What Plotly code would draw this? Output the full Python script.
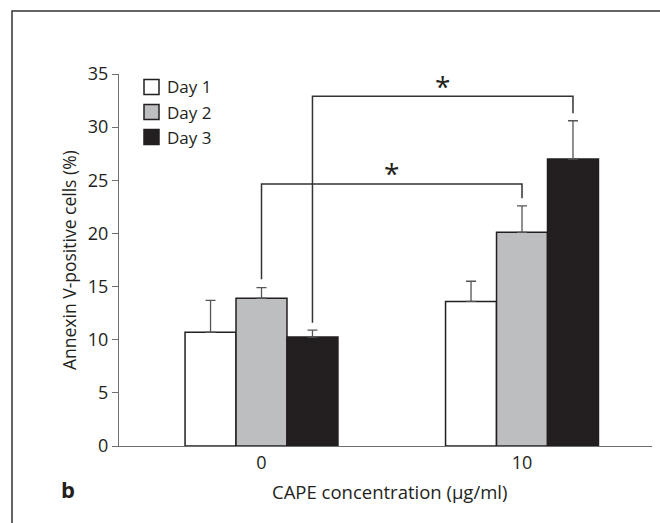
import plotly.graph_objects as go

# ---- data ----
categories = ["0", "10"]
series_names = ["Day 1", "Day 2", "Day 3"]
day1 = [10.7, 13.6]
day2 = [13.9, 20.1]
day3 = [10.25, 27.0]
day1_err = [3.0, 1.9]
day2_err = [1.0, 2.5]
day3_err = [0.65, 3.6]
y_ticks = [0, 5, 10, 15, 20, 25, 30, 35]
# significance brackets: (left bottom, top, right bottom, star y)
bracket_day2 = [15.7, 24.65, 23.3, 25.9]
bracket_day3 = [11.6, 32.9, 31.3, 34.1]

# ---- style ----
W, H = 660, 523
L, R, T, B = 119, 8, 74, 77
FONT = "Open Sans"
TXT = "#231f20"
AX = "#6d6e71"
colors = ["#ffffff", "#bcbec0", "#231f20"]
bargap = 0.413
bw = (1 - bargap) / 3

def px(X):
    return (X - L) / (W - L - R)

def py(Y):
    return (H - B - Y) / (H - T - B)

xs = list(range(len(categories)))
fig = go.Figure()
for name, vals, errs, col in zip(series_names, [day1, day2, day3],
                                 [day1_err, day2_err, day3_err], colors):
    fig.add_trace(go.Bar(
        x=xs, y=vals, name=name,
        marker=dict(color=col, line=dict(color=TXT, width=1.5)),
        error_y=dict(type="data", array=errs, arrayminus=[0] * len(errs),
                     symmetric=False, color="#555555", thickness=1.3, width=5),
        showlegend=False,
    ))

shapes = []
annotations = []
# brackets
for si, br in [(1, bracket_day2), (2, bracket_day3)]:
    off = (si - 1) * bw
    xl, xr = xs[0] + off, xs[1] + off
    lb, top, rb, sy = br
    shapes.append(dict(type="path", xref="x", yref="y",
                       path=f"M {xl},{lb} L {xl},{top} L {xr},{top} L {xr},{rb}",
                       line=dict(color="#333333", width=1.5)))
    annotations.append(dict(x=(xl + xr) / 2, y=sy, xref="x", yref="y",
                            text="*", showarrow=False, yshift=-2,
                            xanchor="center", yanchor="middle",
                            font=dict(family=FONT, size=28, color=TXT)))

# manual legend
for i, (name, col) in enumerate(zip(series_names, colors)):
    cy = 87 + 25 * i
    shapes.append(dict(type="rect", xref="paper", yref="paper",
                       x0=px(144), x1=px(159), y0=py(cy + 7.5), y1=py(cy - 7.5),
                       fillcolor=col, line=dict(color=TXT, width=1.5)))
    annotations.append(dict(x=px(165), y=py(cy), xref="paper", yref="paper",
                            text=name, showarrow=False, xanchor="left", yanchor="middle",
                            font=dict(family=FONT, size=17, color=TXT)))

# frame
shapes.append(dict(type="path", xref="paper", yref="paper",
                   path=f"M {px(W + 2)},{py(11)} L {px(12)},{py(11)} L {px(12)},{py(H + 2)}",
                   line=dict(color="#333333", width=1.5)))

# titles
annotations.append(dict(x=px(389), y=py(492), xref="paper", yref="paper",
                        text="CAPE concentration (µg/ml)", showarrow=False,
                        xanchor="center", yanchor="middle",
                        font=dict(family=FONT, size=18.5, color=TXT)))
annotations.append(dict(x=px(69), y=py(260), xref="paper", yref="paper",
                        text="Annexin V-positive cells (%)", showarrow=False, textangle=-90,
                        xanchor="center", yanchor="middle",
                        font=dict(family=FONT, size=17.5, color=TXT)))
annotations.append(dict(x=px(67.5), y=py(489), xref="paper", yref="paper",
                        text="<b>b</b>", showarrow=False,
                        xanchor="center", yanchor="middle",
                        font=dict(family=FONT, size=22, color=TXT)))

fig.update_layout(
    width=W, height=H,
    margin=dict(l=L, r=R, t=T, b=B, pad=0),
    paper_bgcolor="white", plot_bgcolor="white",
    barmode="group", bargap=bargap, bargroupgap=0,
    showlegend=False,
    shapes=shapes, annotations=annotations,
    xaxis=dict(range=[-0.547, 1.499], tickvals=xs, ticktext=categories,
               showline=True, linecolor=AX, linewidth=1.3, ticks="",
               showgrid=False, zeroline=False, fixedrange=True,
               tickfont=dict(family=FONT, size=18, color=TXT)),
    yaxis=dict(range=[0, 35], tickvals=y_ticks, showline=True, linecolor=AX,
               linewidth=1.3, ticks="outside", ticklen=6, tickcolor=AX, tickwidth=1.3,
               showgrid=False, zeroline=False, fixedrange=True,
               tickfont=dict(family=FONT, size=18, color=TXT)),
)

fig.write_html("out.html")
